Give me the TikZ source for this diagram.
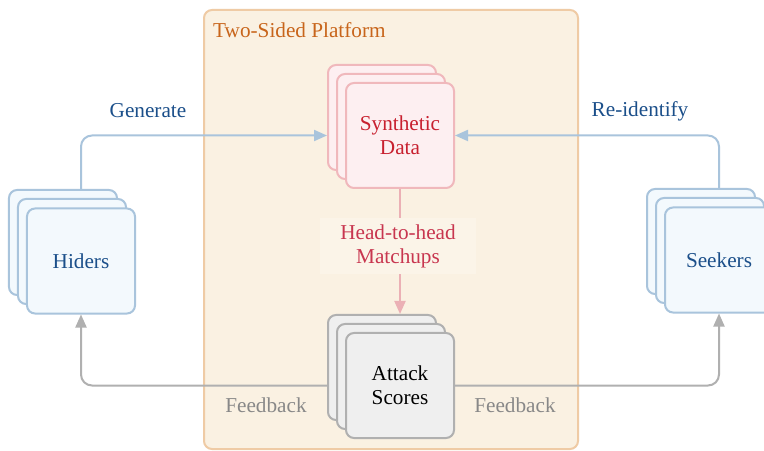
\documentclass[tikz,border=0pt]{standalone}
\usepackage{fontspec}
\setmainfont{Liberation Serif}
\usetikzlibrary{arrows.meta,calc}
\definecolor{platfill}{HTML}{FAF1E2}
\definecolor{platdraw}{HTML}{EFCBA5}
\definecolor{plattext}{HTML}{C8651B}
\definecolor{bluefill}{HTML}{F3F9FD}
\definecolor{bluedraw}{HTML}{A9C4DC}
\definecolor{bluetext}{HTML}{1B4F8A}
\definecolor{pinkfill}{HTML}{FDEFF1}
\definecolor{pinkdraw}{HTML}{F0B8BC}
\definecolor{pinktext}{HTML}{C8202F}
\definecolor{graytext}{HTML}{888888}
\definecolor{graydraw}{HTML}{B0B0B0}
\definecolor{grayfill}{HTML}{EFEFEF}
\definecolor{matchtext}{HTML}{C8364F}
\definecolor{matchline}{HTML}{EBB0B5}
\definecolor{labelfill}{HTML}{FBF4E8}
\begin{document}
\begin{tikzpicture}[x=1bp,y=-1bp,
  every node/.style={font=\fontsize{21.3}{24}\selectfont, align=center, inner sep=0pt},
  card/.style={rectangle, rounded corners=8bp, line width=2bp, minimum width=108bp, minimum height=105bp},
  bluecard/.style={card, draw=bluedraw, fill=bluefill, text=bluetext},
  pinkcard/.style={card, draw=pinkdraw, fill=pinkfill, text=pinktext},
  graycard/.style={card, draw=graydraw, fill=grayfill, text=black},
  conn/.style={line width=2bp, rounded corners=11bp, -{Triangle[length=13bp,width=11bp]}},
  blueconn/.style={conn, draw=bluedraw},
  grayconn/.style={conn, draw=graydraw},
  pinkconn/.style={conn, draw=matchline}
]
\useasboundingbox (0,0) rectangle (764,451);
\fill[white] (0,0) rectangle (764,451);
% platform
\draw[platdraw, fill=platfill, line width=2bp, rounded corners=8bp] (204,10) rectangle (578,449);
\node[anchor=west, text=plattext] (title) at (213,30) {Two-Sided Platform};
% Hiders
\node[bluecard] (hb) at (63,242.5) {};
\node[bluecard] (hm) at (72,251.5) {};
\node[bluecard] (hf) at (81,261) {Hiders};
% Synthetic
\node[pinkcard] (sb) at (382,117.5) {};
\node[pinkcard] (sm) at (391,126.5) {};
\node[pinkcard] (sf) at (400,135.5) {Synthetic\\Data};
% Attack
\node[graycard] (ab) at (382,367.5) {};
\node[graycard] (am) at (391,376.5) {};
\node[graycard] (af) at (400,385.5) {Attack\\Scores};
% Seekers
\node[bluecard] (kb) at (701,241.5) {};
\node[bluecard] (km) at (710,250.5) {};
\node[bluecard] (kf) at (719,260) {Seekers};
% connectors
\draw[blueconn] (hf.center |- hb.north) |- (sb.west |- sf.center);
\node[text=bluetext] (gen) at (148,111) {Generate};
\draw[blueconn] (kf.center |- kb.north) |- (sf.east);
\node[text=bluetext] (reid) at (640,111) {Re-identify};
\draw[pinkconn] (sf.south) -- (sf.south |- ab.north);
\node[text=matchtext, fill=labelfill, inner xsep=20bp, inner ysep=6bp] (match) at (398,246) {Head-to-head\\Matchups};
\draw[grayconn] (ab.west |- af.center) -| (hf.south);
\draw[grayconn] (af.east) -| (kf.south);
\node[text=graytext] (fb1) at (266,405) {Feedback};
\node[text=graytext] (fb2) at (515,405) {Feedback};
\end{tikzpicture}
\end{document}
